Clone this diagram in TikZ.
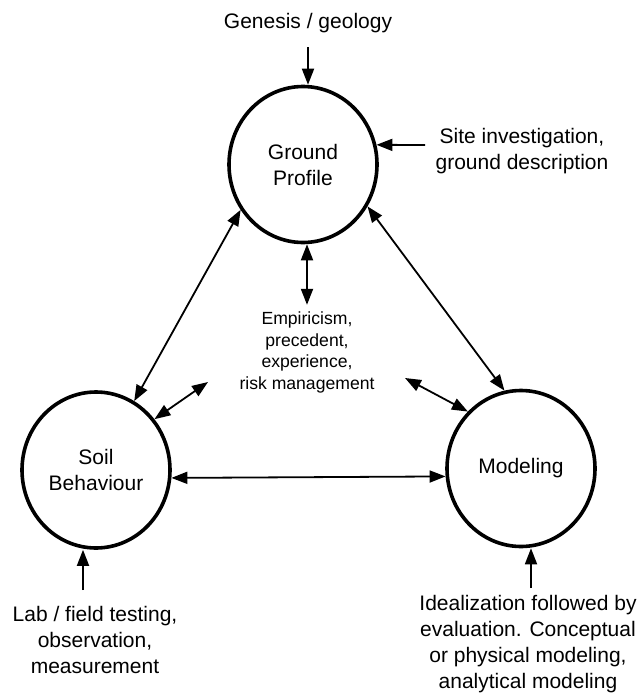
\documentclass[tikz,border=0pt]{standalone}
\usepackage{fontspec}
\setmainfont{Liberation Sans}
\usetikzlibrary{shapes.geometric,arrows.meta}
\begin{document}
\begin{tikzpicture}[x=1pt,y=-1pt,
  circ/.style={draw, ellipse, line width=3.6pt, minimum width=148pt, minimum height=156pt, inner sep=0pt, align=center, font=\fontsize{21}{26}\selectfont},
  lbl/.style={align=center, inner sep=0pt, font=\fontsize{21}{26}\selectfont},
  small/.style={align=center, inner sep=0pt, font=\fontsize{17.6}{21.5}\selectfont},
  tip/.tip={Triangle[length=16pt,width=12pt]},
  arr/.style={line width=1.8pt, -tip},
  darr/.style={line width=1.8pt, tip-tip},
]
\useasboundingbox[fill=white] (0,0) rectangle (641,696);

% main nodes
\node[circ] (gp) at (303,164.5) {Ground\\Profile};
\node[circ] (sb) at (96,470) {Soil\\Behaviour};
\node[circ] (md) at (521,468.5) {Modeling};

% labels
\node[lbl] (gen) at (308,23) {Genesis / geology};
\node[lbl] (site) at (522,151.5) {Site investigation,\\ground description};
\node[small] (emp) at (307,352.5) {Empiricism,\\precedent,\\experience,\\risk management};
\node[lbl] (lab) at (95,640) {Lab / field testing,\\observation,\\measurement};
\node[lbl] (ideal) at (528,644.5) {Idealization followed by\\evaluation. Conceptual\\or physical modeling,\\analytical modeling};

% free ends
\coordinate (genS) at (308,47);
\coordinate (siteS) at (425,145);
\coordinate (labS) at (83,590);
\coordinate (idS) at (531,588);
\coordinate (empL) at (208,382);
\coordinate (empR) at (405,378);

% connectors
\draw[arr] (genS) -- (genS |- gp.north);
\draw[arr] (siteS) -- (gp.15);
\draw[arr] (labS) -- (labS |- sb.south);
\draw[arr] (idS) -- (idS |- md.south);

\draw[darr] (gp.216.6) -- (sb.61.6);
\draw[darr] (gp.-33.8) -- (md.102.9);
\draw[darr] (sb.-6) -- (md.186);
\draw[darr] (gp.south -| emp.north) -- ([yshift=7pt]emp.north);
\draw[darr] (sb.41) -- (empL);
\draw[darr] (empR) -- (md.133.7);
\end{tikzpicture}
\end{document}
